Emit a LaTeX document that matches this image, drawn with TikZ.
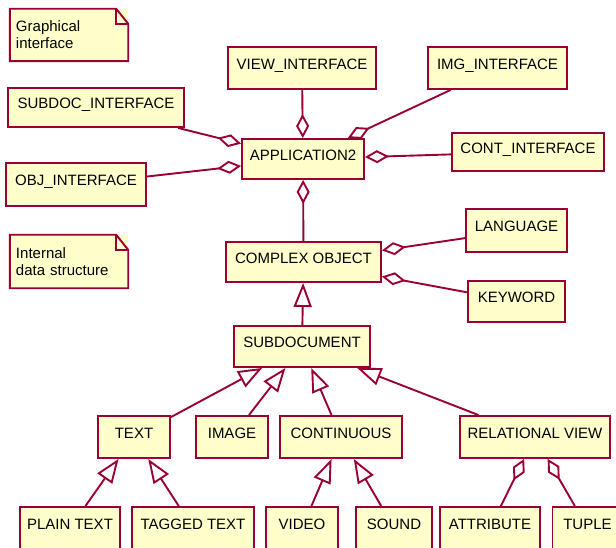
\documentclass[tikz,border=0pt]{standalone}
\usepackage{fontspec}
\setmainfont{Liberation Sans}
\usepackage{tikz}
\definecolor{umlrot}{RGB}{153,0,51}
\definecolor{umlgelb}{RGB}{255,255,204}
\usetikzlibrary{arrows.meta}

\begin{document}
\begin{tikzpicture}[x=1pt, y=-1pt,
				klasse/.style={draw=umlrot, fill=umlgelb, line width=1.9pt, inner sep=0pt, minimum height=#1,
					text height=10.5pt, text depth=8pt, font=\fontsize{15}{17}\selectfont},
				klasse/.default=41pt,
				notiz/.style={fill=umlgelb, inner xsep=6pt, inner ysep=0pt, minimum height=#1, text width=106pt,
					align=left, font=\fontsize{15}{17}\selectfont},
				aggr/.style={draw=umlrot, line width=1.9pt, -{Diamond[open, length=24pt, width=13pt]}},
				erbt/.style={draw=umlrot, line width=1.9pt, -{Triangle[open, length=24pt, width=18pt]}}]
				% Bildbereich
				\useasboundingbox (0,0) rectangle (616,548);
				% Notizen
				\node[notiz=52pt] (graphnote) at (69,35) {Graphical\\interface};
				\node[notiz=53pt] (datanote) at (69,261.5) {Internal\\data structure};
				\foreach \n in {graphnote, datanote} {
					\draw[umlrot, line width=1.9pt, line join=miter] (\n.south west) -- (\n.north west) -- ([xshift=-12pt]\n.north east)
						-- ([yshift=-15pt]\n.north east) -- (\n.south east) -- cycle;
					\draw[umlrot, line width=1.9pt] ([xshift=-12pt]\n.north east) -- ([xshift=-12pt,yshift=-15pt]\n.north east)
						-- ([yshift=-15pt]\n.north east);
				}
				% Schnittstellen
				\node[klasse=42pt, minimum width=148pt] (view) at (302,68) {VIEW\_INTERFACE};
				\node[klasse=42pt, minimum width=139pt] (img) at (497.5,68) {IMG\_INTERFACE};
				\node[klasse=39pt, minimum width=176pt] (subdocif) at (96,107.5) {SUBDOC\_INTERFACE};
				\node[klasse=40pt, minimum width=122pt] (app) at (303,159) {APPLICATION2};
				\node[klasse=43pt, minimum width=140pt] (objif) at (76,184.5) {OBJ\_INTERFACE};
				\node[klasse=38pt, minimum width=152pt] (contif) at (528,152) {CONT\_INTERFACE};
				% Datenstruktur
				\node[klasse=40pt, minimum width=155pt] (complex) at (303.5,262) {COMPLEX OBJECT};
				\node[klasse=43pt, minimum width=101pt] (language) at (516.5,230.5) {LANGUAGE};
				\node[klasse, minimum width=97pt] (keyword) at (516.5,301.5) {KEYWORD};
				\node[klasse, minimum width=136pt] (subdoc) at (302,346.5) {SUBDOCUMENT};
				\node[klasse=42pt, minimum width=72pt] (text) at (134,437) {TEXT};
				\node[klasse=42pt, minimum width=72pt] (image) at (232,437) {IMAGE};
				\node[klasse=42pt, minimum width=122pt] (cont) at (341,437) {CONTINUOUS};
				\node[klasse=42pt, minimum width=150pt] (relview) at (535,437) {RELATIONAL VIEW};
				\node[klasse=42pt, minimum width=100pt] (plain) at (70,528) {PLAIN TEXT};
				\node[klasse=42pt, minimum width=121.5pt] (tagged) at (193,528) {TAGGED TEXT};
				\node[klasse=42pt, minimum width=72pt] (video) at (302,528) {VIDEO};
				\node[klasse=42pt, minimum width=76pt] (sound) at (394,528) {SOUND};
				\node[klasse=42pt, minimum width=100pt] (attribute) at (490,528) {ATTRIBUTE};
				\node[klasse=42pt, minimum width=70pt] (tuple) at (587.5,528) {TUPLE};
				% Aggregationen
				\foreach \a in {view, img, subdocif, objif, contif, complex} \draw[aggr] (\a) -- (app);
				\foreach \a in {language, keyword} \draw[aggr] (\a) -- (complex);
				\foreach \a in {attribute, tuple} \draw[aggr] (\a) -- (relview);
				% Vererbung
				\draw[erbt] (subdoc) -- (complex);
				\foreach \a in {text, image, cont, relview} \draw[erbt] (\a) -- (subdoc);
				\foreach \a in {plain, tagged} \draw[erbt] (\a) -- (text);
				\foreach \a in {video, sound} \draw[erbt] (\a) -- (cont);
			\end{tikzpicture}
\end{document}
